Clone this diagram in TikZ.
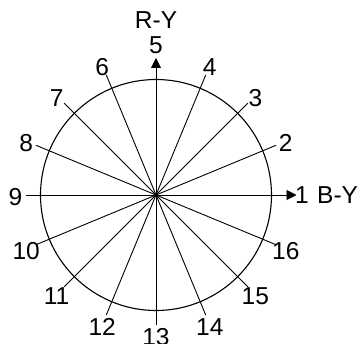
\documentclass[tikz,border=0pt]{standalone}
\usepackage{fontspec}
\setmainfont{Liberation Sans}
\usetikzlibrary{arrows.meta}

\begin{document}
\begin{tikzpicture}[x=1pt, y=1pt,
    every node/.style={font=\fontsize{24.5}{27}\selectfont, inner sep=0pt},
    spoke/.style={line width=0.9pt},
    axis/.style={spoke, -{Triangle[length=10pt, width=10pt]}}]
  \useasboundingbox (-156,-148) rectangle (205,195);
  \coordinate (o) at (0,0);
  \draw[line width=1.1pt] (o) circle (115.5);
  % sixteen directions, 22.5 degrees apart
  \foreach \i in {2,3,4,6,7,8,9,10,11,12,13,14,15,16} {
    \pgfmathsetmacro\ang{(\i-1)*22.5}
    \coordinate (e\i) at (\ang:130);
    \draw[spoke] (o) -- (e\i);
    \node (l\i) at ([yshift=-2pt]\ang:140.5) {\i};
  }
  % the two axes
  \coordinate (a1) at (0:140.5);
  \coordinate (a5) at (90:137);
  \draw[axis] (o) -- (a1);
  \draw[axis] (o) -- (a5);
  \node[anchor=west, xshift=-1.5pt] (l1) at (a1) {1};
  \node[anchor=west] (by) at (161,0) {B-Y};
  \node (l5) at (0,150) {5};
  \node (ry) at (0,175) {R-Y};
\end{tikzpicture}
\end{document}
